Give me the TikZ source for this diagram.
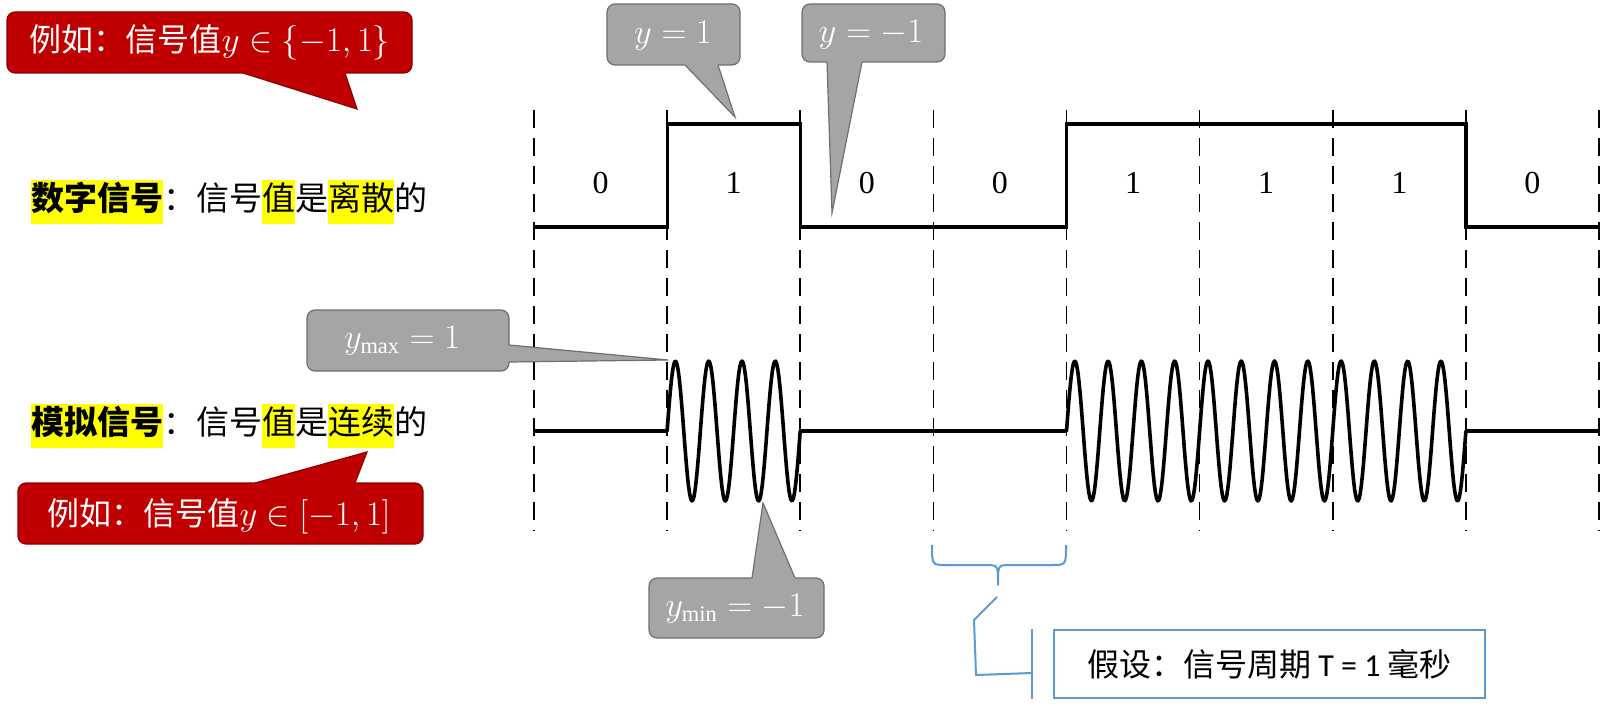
\documentclass[tikz,border=0pt]{standalone}
\usepackage{fontspec}
\setmainfont{Liberation Serif}
\newfontfamily\cjk{Noto Sans CJK SC}
\newfontfamily\calibri{Carlito}
\usepackage{xcolor}
\usepackage{tikz}
\usetikzlibrary{calc}
\definecolor{calloutred}{HTML}{C00000}
\definecolor{calloutredline}{HTML}{8C0000}
\definecolor{calloutgrey}{HTML}{A6A4A7}
\definecolor{calloutgreyline}{HTML}{6F6F6F}
\definecolor{noteblue}{HTML}{5B9BD5}
\definecolor{hlyellow}{HTML}{FFFF00}
\newcommand\hlbox[1]{{\setlength{\fboxsep}{0pt}\colorbox{hlyellow}{\strut#1}}}
\newcommand\bitw{133.125}

\begin{document}
\begin{tikzpicture}[x=0.5pt, y=-0.5pt,
  grid/.style={dash pattern=on 9pt off 5pt, line width=0.8pt},
  digital/.style={line width=1.6pt},
  analog/.style={line width=1.8pt, line join=round},
  redcall/.style={fill=calloutred, draw=calloutredline, line width=0.6pt},
  greycall/.style={fill=calloutgrey, draw=calloutgreyline, line width=0.6pt},
  calltext/.style={text=white, inner sep=0pt, font=\cjk\fontsize{16}{19}\selectfont},
  lefttext/.style={anchor=west, inner sep=0pt, font=\cjk\fontsize{16.5}{22}\selectfont},
  bitlabel/.style={font=\fontsize{16}{19}\selectfont},
  notebox/.style={draw=noteblue, line width=1.2pt, minimum width=215.5pt, minimum height=34pt, inner sep=0pt, font=\cjk\fontsize{16}{19}\selectfont},
  noteline/.style={draw=noteblue, line width=1pt}
]
\useasboundingbox (0,0) rectangle (1610,706);

% time slots
\foreach \i in {0,...,8}
  \draw[grid] ({534+\bitw*\i},110) -- ({534+\bitw*\i},531);
\foreach \b [count=\i from 0] in {0,1,0,0,1,1,1,0}
  \node[bitlabel] (bit\i) at ({534+\bitw*(\i+0.5)},183) {\b};

% digital signal
\draw[digital] (534,227) -| (667.1,124) -| (800.25,227) -| (1066.5,124) -| (1465.9,227) -- (1599,227);

% analog signal
\draw[analog] (534,431) -- (667.1,431)
  -- plot[domain=0:133.125, samples=120] ({667.1+\x}, {431-70*sin(4*\x/\bitw*360)})
  -- (1066.5,431)
  -- plot[domain=0:399.375, samples=360] ({1066.5+\x}, {431-70*sin(4*\x/\bitw*360)})
  -- (1599,431);

% left labels
\node[lefttext] (dlabel) at (31,202) {\hlbox{\bfseries 数字信号}：信号\hlbox{值}是\hlbox{离散}的};
\node[lefttext] (alabel) at (31,425.5) {\hlbox{\bfseries 模拟信号}：信号\hlbox{值}是\hlbox{连续}的};

% red callouts
\coordinate (ex1tip) at (357,109);
\draw[redcall, rounded corners=4pt] (7,12) rectangle (412,73);
\fill[calloutred] ($(ex1tip)!1.1!(243,73)$) -- (ex1tip) -- ($(ex1tip)!1.1!(345,73)$) -- cycle;
\draw[calloutredline, line width=0.6pt] (243,73) -- (ex1tip) -- (345,73);
\node[calltext] (ex1) at (210,42) {例如：信号值$y\in\{-1,1\}$};

\coordinate (ex2tip) at (367,452);
\draw[redcall, rounded corners=4pt] (18,483) rectangle (423,544);
\fill[calloutred] ($(ex2tip)!1.1!(255,483)$) -- (ex2tip) -- ($(ex2tip)!1.1!(355,483)$) -- cycle;
\draw[calloutredline, line width=0.6pt] (255,483) -- (ex2tip) -- (355,483);
\node[calltext] (ex2) at (219,516) {例如：信号值$y\in[-1,1]$};

% grey callouts
\coordinate (hightip) at (735,117);
\draw[greycall, rounded corners=4pt] (607,4) rectangle (740,65);
\fill[calloutgrey] ($(hightip)!1.1!(685,65)$) -- (hightip) -- ($(hightip)!1.1!(718,65)$) -- cycle;
\draw[calloutgreyline, line width=0.6pt] (685,65) -- (hightip) -- (718,65);
\node[calltext] (yhigh) at (673,36) {$y=1$};

\coordinate (lowtip) at (832,213);
\draw[greycall, rounded corners=4pt] (802,4) rectangle (945,62);
\fill[calloutgrey] ($(lowtip)!1.1!(827,62)$) -- (lowtip) -- ($(lowtip)!1.1!(862,62)$) -- cycle;
\draw[calloutgreyline, line width=0.6pt] (827,62) -- (lowtip) -- (862,62);
\node[calltext] (ylow) at (871,35) {$y=-1$};

\coordinate (maxtip) at (668,360);
\draw[greycall, rounded corners=4pt] (307,310) rectangle (509,371);
\fill[calloutgrey] ($(maxtip)!1.1!(509,345)$) -- (maxtip) -- ($(maxtip)!1.1!(509,362)$) -- cycle;
\draw[calloutgreyline, line width=0.6pt] (509,345) -- (maxtip) -- (509,362);
\node[calltext] (ymax) at (402,341) {$y_{\mathrm{max}}=1$};

\coordinate (mintip) at (763,503);
\draw[greycall, rounded corners=4pt] (649,578) rectangle (824,638);
\fill[calloutgrey] ($(mintip)!1.1!(752,578)$) -- (mintip) -- ($(mintip)!1.1!(795,578)$) -- cycle;
\draw[calloutgreyline, line width=0.6pt] (752,578) -- (mintip) -- (795,578);
\node[calltext] (ymin) at (735,609) {$y_{\mathrm{min}}=-1$};

% period brace and note
\coordinate (bracetip) at (998,585);
\draw[noteline, line join=round] (932,545) .. controls (932,565) .. (946,565) -- (986,565)
  .. controls (998,565) .. (bracetip) .. controls (998,565) .. (1010,565) -- (1052,565)
  .. controls (1066,565) .. (1066,545);
\node[notebox] (note) at (1269.5,664) {假设：信号周期 {\calibri T = 1} 毫秒};
\draw[noteline] ([xshift=-10.5pt]note.north west) -- ([xshift=-10.5pt]note.south west);
\draw[noteline] ($(bracetip)+(-1,12)$) -- ++(-23,23) -- ++(2,55) -- ([xshift=-10.5pt,yshift=-4.5pt]note.west);
\end{tikzpicture}
\end{document}
